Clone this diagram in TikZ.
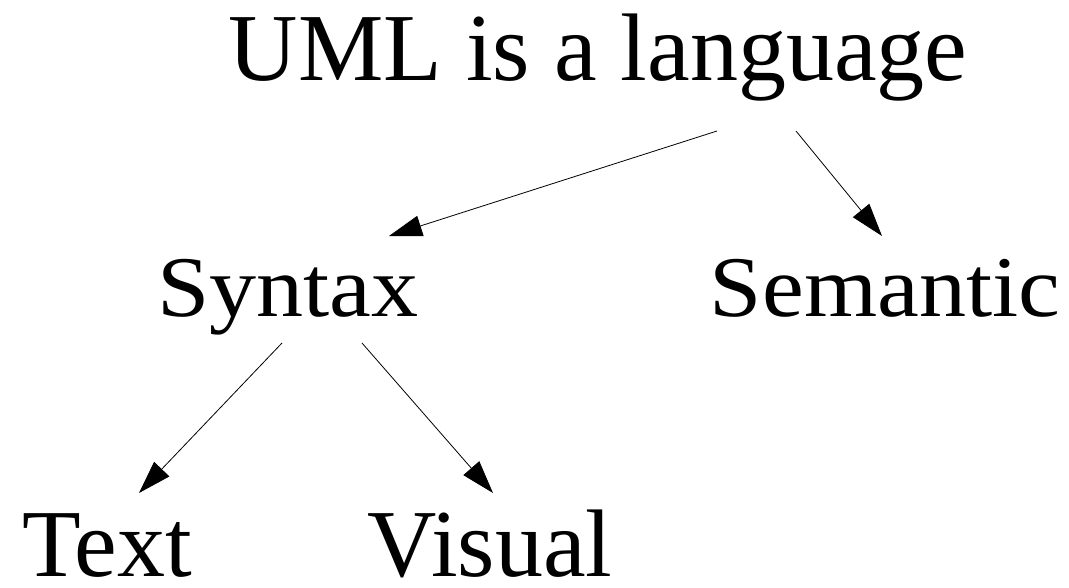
\documentclass[tikz,border=0pt]{standalone}
\usepackage{fontspec}
\setmainfont{Liberation Serif}
\usetikzlibrary{arrows.meta}
% middle row is set slightly shorter than the rest
\newcommand{\squat}[1]{\scalebox{0.98}[0.9]{#1}}
\begin{document}
\begin{tikzpicture}[x=1pt,y=-1pt,
  term/.style={inner sep=0pt,anchor=base,font=\fontsize{96}{96}\selectfont},
  link/.style={line width=0.8pt,-{Triangle[length=33pt,width=21pt]}}]
\useasboundingbox (0,0) rectangle (1069,587);
\node[term] (uml) at (598,80) {UML is a language};
\node[term] (syn) at (288,316) {\squat{Syntax}};
\node[term] (sem) at (885,316) {\squat{Semantic}};
\node[term] (txt) at (107,576) {Text};
\node[term] (vis) at (490,576) {Visual};
\draw[link] ([shift={(119,51)}]uml.base) -- ([shift={(101,-80)}]syn.base);
\draw[link] ([shift={(198,51)}]uml.base) -- ([shift={(-3,-80)}]sem.base);
\draw[link] ([shift={(-6,27)}]syn.base) -- ([shift={(32,-83)}]txt.base);
\draw[link] ([shift={(74,27)}]syn.base) -- ([shift={(3,-83)}]vis.base);
\end{tikzpicture}
\end{document}
